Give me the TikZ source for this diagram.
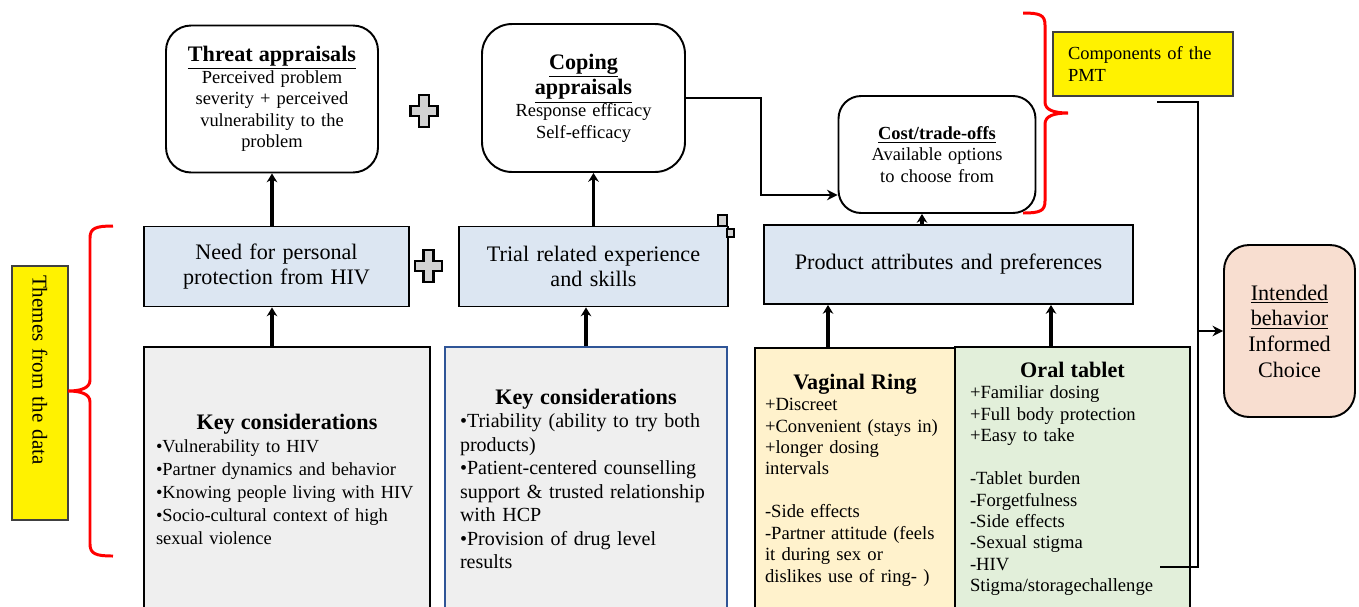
\documentclass[tikz,border=0pt]{standalone}
\usepackage{fontspec}
\setmainfont{Liberation Serif}
\usepackage{tikz}
\usetikzlibrary{arrows.meta}
\usetikzlibrary{shapes}

\definecolor{themeblue}{RGB}{220,230,242}
\definecolor{keygray}{RGB}{239,239,239}
\definecolor{keyblue}{RGB}{47,85,151}
\definecolor{ringcream}{RGB}{255,242,204}
\definecolor{tabletgreen}{RGB}{226,239,218}
\definecolor{intendpeach}{RGB}{248,222,208}

\newcommand{\boxtitle}[1]{{\fontsize{12.6}{15}\selectfont\bfseries #1}}

\tikzstyle{appraisal} = [rectangle, rounded corners=0.5cm, draw=black, line width=1.1pt, fill=white, align=center, inner sep=0pt, font=\fontsize{10.5}{12.3}\selectfont]
\tikzstyle{themebox} = [rectangle, draw=black, line width=1.1pt, fill=themeblue, align=center, inner sep=0pt, minimum height=1.6cm, font=\fontsize{12.6}{14.6}\selectfont]
\tikzstyle{keybox} = [rectangle, draw=black, line width=1.1pt, fill=keygray, align=left, inner ysep=0pt, minimum height=5.28cm, font=\fontsize{10.5}{13.1}\selectfont]
\tikzstyle{pmtnote} = [rectangle, draw=black!75, line width=0.7pt, fill=yellow, align=left, inner ysep=0pt]
\tikzstyle{brace} = [draw=red, line width=1.7pt]
\tikzstyle{arrow} = [line width=2pt, -{Stealth[length=5pt,width=6pt]}]
\tikzstyle{link} = [line width=0.9pt]
\tikzstyle{linkarrow} = [line width=0.9pt, -{Stealth[length=6pt,width=6pt]}]
\tikzset{plussign/.pic={
  \draw[fill=gray!35, line width=1.3pt] (-5,-16) -- (5,-16) -- (5,-5) -- (13.5,-5) -- (13.5,5) -- (5,5) -- (5,16) -- (-5,16) -- (-5,5) -- (-13.5,5) -- (-13.5,-5) -- (-5,-5) -- cycle;}}

\begin{document}
\begin{tikzpicture}[x=0.02cm, y=-0.02cm]
\useasboundingbox (0,0) rectangle (1359,606);
\clip (0,0) rectangle (1359,606);

% PMT components
\node [appraisal, minimum width=4.24cm, minimum height=2.94cm, text width=4cm] (threat) at (272,99) {\boxtitle{\underline{Threat appraisals}}\\Perceived problem\\severity + perceived\\vulnerability to the\\problem};
\node [appraisal, rounded corners=0.6cm, minimum width=4.06cm, minimum height=2.96cm, text width=3.8cm] (coping) at (583.5,98) {\boxtitle{\underline{Coping}}\\\boxtitle{\underline{appraisals}}\\Response efficacy\\Self-efficacy};
\node [appraisal, rounded corners=0.45cm, minimum width=3.94cm, minimum height=2.34cm, text width=3.7cm] (cost) at (937,154.5) {{\bfseries\underline{Cost/trade-offs}}\\Available options\\to choose from};
\node [pmtnote, minimum width=3.6cm, minimum height=1.28cm, text width=3cm, inner xsep=0.3cm, font=\fontsize{10.5}{12.5}\selectfont] (pmt) at (1143,64) {Components of the\\PMT};

% themes
\node [themebox, minimum width=5.3cm, text width=5cm] (need) at (276.5,266.5) {Need for personal\\protection from HIV};
\node [themebox, minimum width=5.38cm, text width=5.1cm] (trial) at (593.5,266.5) {Trial related experience\\and skills};
\node [themebox, minimum width=7.38cm, minimum height=1.58cm, text width=7cm] (product) at (948.5,264.5) {Product attributes and preferences};
\node [pmtnote, rotate=-90, minimum width=5.08cm, minimum height=1.12cm, text width=4.72cm, inner xsep=0.18cm, font=\fontsize{12}{14}\selectfont] (themes) at (40,393) {Themes from the data};

% key considerations
\node [keybox, minimum width=5.72cm, text width=5.24cm, inner xsep=0.24cm] (key1) at (287,479) {\makebox[\linewidth]{\boxtitle{Key considerations}}\\•Vulnerability to HIV\\•Partner dynamics and behavior\\•Knowing people living with HIV\\•Socio-cultural context of high\\sexual violence};
\node [keybox, draw=keyblue, minimum width=5.64cm, text width=5.04cm, inner xsep=0.3cm, font=\fontsize{11.4}{13.4}\selectfont] (key2) at (586,479) {\makebox[\linewidth]{\boxtitle{Key considerations}}\\•Triability (ability to try both\\products)\\•Patient-centered counselling\\support \& trusted relationship\\with HCP\\•Provision of drug level\\results};
\node [keybox, fill=ringcream, minimum width=4cm, text width=3.6cm, inner xsep=0.2cm, font=\fontsize{10.6}{12.2}\selectfont] (ring) at (855,480) {\makebox[\linewidth]{\boxtitle{Vaginal Ring}}\\+Discreet\\+Convenient (stays in)\\+longer dosing\\intervals\\[12.2pt]-Side effects\\-Partner attitude (feels\\it during sex or\\dislikes use of ring- )};
\node [keybox, fill=tabletgreen, minimum width=4.7cm, text width=4.1cm, inner xsep=0.3cm, font=\fontsize{10.6}{12.2}\selectfont] (tablet) at (1072.5,479) {\makebox[\linewidth]{\boxtitle{Oral tablet}}\\+Familiar dosing\\+Full body protection\\+Easy to take\\[12.2pt]-Tablet burden\\-Forgetfulness\\-Side effects\\-Sexual stigma\\-HIV\\Stigma/storagechallenge};

% outcome
\node [appraisal, rounded corners=0.5cm, fill=intendpeach, minimum width=2.62cm, minimum height=3.44cm, text width=2.4cm, font=\fontsize{12.6}{14.6}\selectfont] (intended) at (1289.5,331) {\underline{Intended}\\\underline{behavior}\\Informed\\Choice};

% plus signs and handles
\pic at (424,111) {plussign};
\pic at (428.5,266) {plussign};
\draw [fill=gray!35, line width=0.6pt] (718,215) rectangle (727,226);
\draw [fill=gray!35, line width=0.6pt] (727,229) rectangle (734,237);

% braces
\draw [brace] (1023,13) .. controls (1040,13) and (1045,15) .. (1045,25) -- (1045,102) .. controls (1045,110) and (1054,113) .. (1068,113) .. controls (1054,113) and (1045,116) .. (1045,124) -- (1045,201) .. controls (1045,211) and (1040,213) .. (1023,213);
\draw [brace] (113,226) .. controls (96,226) and (90,228) .. (90,238) -- (90,380) .. controls (90,388) and (81,391) .. (68,391) .. controls (81,391) and (90,394) .. (90,402) -- (90,544) .. controls (90,554) and (96,556) .. (113,556);

% connectors
\draw [arrow] (need.north -| threat.south) -- (threat.south);
\draw [arrow] (key1.north -| threat.south) -- (need.south -| threat.south);
\draw [arrow] (trial.north) -- (coping.south -| trial.north);
\draw [arrow] (key2.north) -- (trial.south -| key2.north);
\draw [arrow] ([xshift=-0.3cm]cost.south |- product.north) -- ([xshift=-0.3cm]cost.south);
\draw [arrow] ([xshift=-0.54cm]ring.north) -- ([xshift=-0.54cm]ring.north |- product.south);
\draw [arrow] ([xshift=-0.43cm]tablet.north) -- ([xshift=-0.43cm]tablet.north |- product.south);

\coordinate (elbow) at (761,195);
\draw [linkarrow] (coping.east) -| (elbow) -- (elbow -| cost.west);

\coordinate (pmtend) at (1157,102);
\coordinate (railbot) at (1198,567);
\coordinate (hivend) at (1160,567);
\draw [link] (pmtend) -| (railbot) -- (hivend);
\draw [linkarrow] (railbot |- intended.west) -- (intended.west);

\end{tikzpicture}
\end{document}
